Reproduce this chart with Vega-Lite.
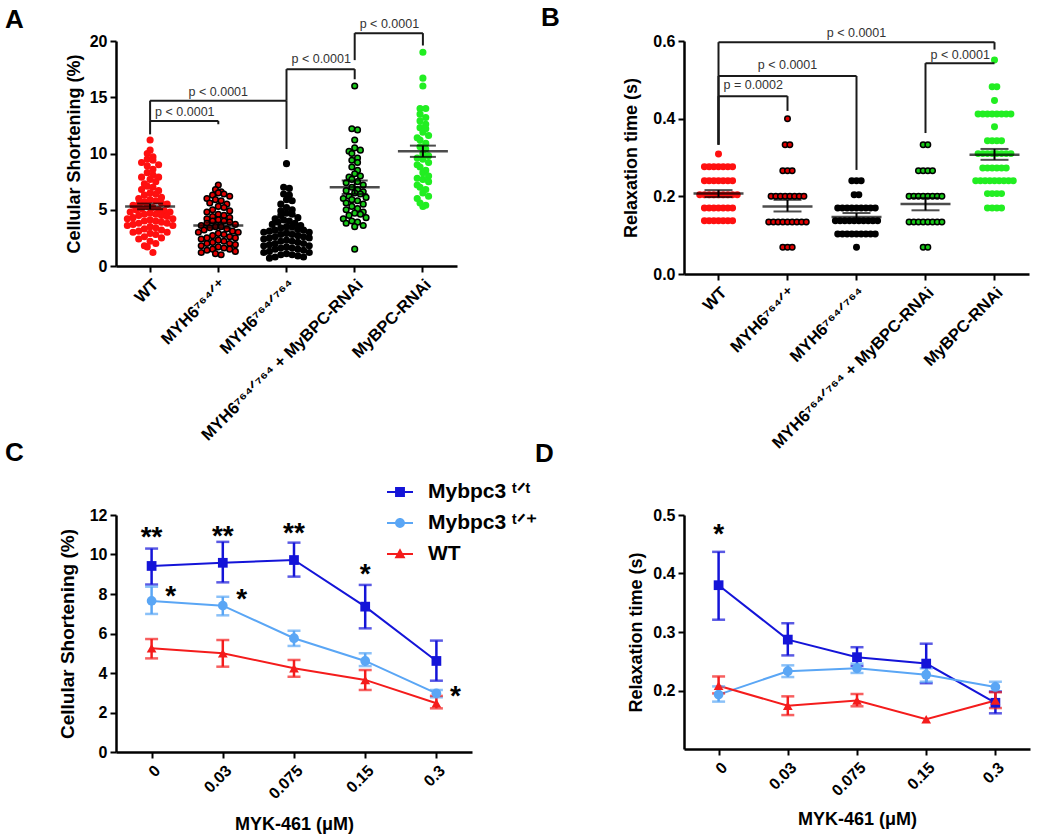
{
  "$schema": "https://vega.github.io/schema/vega-lite/v6.json",
  "background": "white",
  "padding": {"left": 5, "top": 5, "right": 5, "bottom": 5},
  "columns": 2,
  "bounds": "flush",
  "spacing": {"row": 241, "column": 212},
  "resolve": {
    "scale": {"xOffset": "independent", "fill": "independent", "stroke": "independent", "shape": "independent", "color": "independent"},
    "legend": {"fill": "independent", "stroke": "independent", "shape": "independent", "color": "independent"}
  },
  "config": {
    "font": "Liberation Sans",
    "view": {"stroke": null},
    "axis": {"domainColor": "#000", "domainWidth": 2.5, "tickColor": "#000", "tickWidth": 2, "tickSize": 6, "labelColor": "#000", "labelFont": "Liberation Sans", "labelFontWeight": "bold", "labelFontSize": 16, "titleFont": "Liberation Sans", "titleFontWeight": "bold", "titleFontSize": 18, "titleColor": "#000", "grid": false, "labelPadding": 3, "labelOverlap": false, "labelFlush": false},
    "title": {"font": "Liberation Sans", "fontSize": 26, "fontWeight": "bold", "color": "#000", "anchor": "start", "frame": "group", "offset": 0, "baseline": "alphabetic"},
    "legend": {"labelFont": "Liberation Sans", "labelFontWeight": "bold", "labelFontSize": 21, "labelColor": "#000", "padding": 0}
  },
  "concat": [
    {
      "width": 341,
      "height": 225,
      "title": {"text": "A", "dx": -111, "dy": 19},
      "layer": [
        {
          "data": {"values": [
            {"g":"WT","v":11.2},{"g":"WT","v":10.3},{"g":"WT","v":10.0},{"g":"WT","v":9.7},{"g":"WT","v":9.5},{"g":"WT","v":9.4},{"g":"WT","v":9.2},{"g":"WT","v":9.0},{"g":"WT","v":8.9},{"g":"WT","v":8.6},
            {"g":"WT","v":8.3},{"g":"WT","v":8.1},{"g":"WT","v":7.9},{"g":"WT","v":7.9},{"g":"WT","v":7.7},{"g":"WT","v":7.5},{"g":"WT","v":7.3},{"g":"WT","v":7.1},{"g":"WT","v":7.0},{"g":"WT","v":6.8},
            {"g":"WT","v":6.7},{"g":"WT","v":6.5},{"g":"WT","v":6.4},{"g":"WT","v":6.3},{"g":"WT","v":6.1},{"g":"WT","v":6.0},{"g":"WT","v":5.9},{"g":"WT","v":5.8},{"g":"WT","v":5.7},{"g":"WT","v":5.6},
            {"g":"WT","v":5.5},{"g":"WT","v":5.5},{"g":"WT","v":5.4},{"g":"WT","v":5.3},{"g":"WT","v":5.2},{"g":"WT","v":5.1},{"g":"WT","v":5.0},{"g":"WT","v":5.0},{"g":"WT","v":4.9},{"g":"WT","v":4.8},
            {"g":"WT","v":4.8},{"g":"WT","v":4.7},{"g":"WT","v":4.6},{"g":"WT","v":4.6},{"g":"WT","v":4.5},{"g":"WT","v":4.5},{"g":"WT","v":4.4},{"g":"WT","v":4.3},{"g":"WT","v":4.2},{"g":"WT","v":4.2},
            {"g":"WT","v":4.1},{"g":"WT","v":4.0},{"g":"WT","v":4.0},{"g":"WT","v":3.9},{"g":"WT","v":3.8},{"g":"WT","v":3.8},{"g":"WT","v":3.7},{"g":"WT","v":3.6},{"g":"WT","v":3.6},{"g":"WT","v":3.5},
            {"g":"WT","v":3.4},{"g":"WT","v":3.3},{"g":"WT","v":3.2},{"g":"WT","v":3.1},{"g":"WT","v":3.0},{"g":"WT","v":3.0},{"g":"WT","v":2.9},{"g":"WT","v":2.8},{"g":"WT","v":2.6},{"g":"WT","v":2.5},
            {"g":"WT","v":2.4},{"g":"WT","v":2.2},{"g":"WT","v":2.0},{"g":"WT","v":1.8},{"g":"WT","v":1.7},{"g":"WT","v":1.2},
            {"g":"HET","v":7.2},{"g":"HET","v":6.8},{"g":"HET","v":6.6},{"g":"HET","v":6.5},{"g":"HET","v":6.4},{"g":"HET","v":6.3},{"g":"HET","v":6.2},{"g":"HET","v":6.0},{"g":"HET","v":5.9},{"g":"HET","v":5.8},
            {"g":"HET","v":5.6},{"g":"HET","v":5.5},{"g":"HET","v":5.3},{"g":"HET","v":5.2},{"g":"HET","v":5.0},{"g":"HET","v":4.9},{"g":"HET","v":4.8},{"g":"HET","v":4.6},{"g":"HET","v":4.5},{"g":"HET","v":4.4},
            {"g":"HET","v":4.3},{"g":"HET","v":4.2},{"g":"HET","v":4.1},{"g":"HET","v":4.0},{"g":"HET","v":4.0},{"g":"HET","v":3.9},{"g":"HET","v":3.8},{"g":"HET","v":3.7},{"g":"HET","v":3.6},{"g":"HET","v":3.5},
            {"g":"HET","v":3.5},{"g":"HET","v":3.4},{"g":"HET","v":3.3},{"g":"HET","v":3.2},{"g":"HET","v":3.1},{"g":"HET","v":3.0},{"g":"HET","v":3.0},{"g":"HET","v":2.9},{"g":"HET","v":2.8},{"g":"HET","v":2.7},
            {"g":"HET","v":2.6},{"g":"HET","v":2.5},{"g":"HET","v":2.5},{"g":"HET","v":2.4},{"g":"HET","v":2.3},{"g":"HET","v":2.2},{"g":"HET","v":2.1},{"g":"HET","v":2.0},{"g":"HET","v":2.0},{"g":"HET","v":1.9},
            {"g":"HET","v":1.8},{"g":"HET","v":1.7},{"g":"HET","v":1.6},{"g":"HET","v":1.5},{"g":"HET","v":1.5},{"g":"HET","v":1.4},{"g":"HET","v":1.3},{"g":"HET","v":1.2},{"g":"HET","v":1.1},{"g":"HET","v":1.0},
            {"g":"HOM","v":9.1},{"g":"HOM","v":7.0},{"g":"HOM","v":6.9},{"g":"HOM","v":6.4},{"g":"HOM","v":6.3},{"g":"HOM","v":5.9},{"g":"HOM","v":5.8},{"g":"HOM","v":5.5},{"g":"HOM","v":5.2},{"g":"HOM","v":5.0},
            {"g":"HOM","v":4.9},{"g":"HOM","v":4.7},{"g":"HOM","v":4.6},{"g":"HOM","v":4.5},{"g":"HOM","v":4.3},{"g":"HOM","v":4.2},{"g":"HOM","v":4.1},{"g":"HOM","v":4.0},{"g":"HOM","v":3.9},{"g":"HOM","v":3.8},
            {"g":"HOM","v":3.7},{"g":"HOM","v":3.6},{"g":"HOM","v":3.5},{"g":"HOM","v":3.5},{"g":"HOM","v":3.4},{"g":"HOM","v":3.3},{"g":"HOM","v":3.2},{"g":"HOM","v":3.2},{"g":"HOM","v":3.1},{"g":"HOM","v":3.0},
            {"g":"HOM","v":3.0},{"g":"HOM","v":2.9},{"g":"HOM","v":2.8},{"g":"HOM","v":2.8},{"g":"HOM","v":2.7},{"g":"HOM","v":2.6},{"g":"HOM","v":2.6},{"g":"HOM","v":2.5},{"g":"HOM","v":2.5},{"g":"HOM","v":2.4},
            {"g":"HOM","v":2.3},{"g":"HOM","v":2.2},{"g":"HOM","v":2.2},{"g":"HOM","v":2.1},{"g":"HOM","v":2.0},{"g":"HOM","v":2.0},{"g":"HOM","v":1.9},{"g":"HOM","v":1.8},{"g":"HOM","v":1.8},{"g":"HOM","v":1.7},
            {"g":"HOM","v":1.6},{"g":"HOM","v":1.6},{"g":"HOM","v":1.5},{"g":"HOM","v":1.5},{"g":"HOM","v":1.4},{"g":"HOM","v":1.3},{"g":"HOM","v":1.2},{"g":"HOM","v":1.2},{"g":"HOM","v":1.1},{"g":"HOM","v":1.0},
            {"g":"HOM","v":1.0},{"g":"HOM","v":0.9},{"g":"HOM","v":0.8},{"g":"HOM","v":0.8},{"g":"HOM","v":0.7},
            {"g":"COMBO","v":16.0},{"g":"COMBO","v":12.2},{"g":"COMBO","v":12.1},{"g":"COMBO","v":11.2},{"g":"COMBO","v":10.5},{"g":"COMBO","v":10.3},{"g":"COMBO","v":10.2},{"g":"COMBO","v":10.0},{"g":"COMBO","v":9.6},{"g":"COMBO","v":9.4},
            {"g":"COMBO","v":9.2},{"g":"COMBO","v":8.8},{"g":"COMBO","v":8.5},{"g":"COMBO","v":8.2},{"g":"COMBO","v":8.0},{"g":"COMBO","v":7.9},{"g":"COMBO","v":7.7},{"g":"COMBO","v":7.5},{"g":"COMBO","v":7.4},{"g":"COMBO","v":7.2},
            {"g":"COMBO","v":7.0},{"g":"COMBO","v":6.8},{"g":"COMBO","v":6.7},{"g":"COMBO","v":6.6},{"g":"COMBO","v":6.5},{"g":"COMBO","v":6.4},{"g":"COMBO","v":6.2},{"g":"COMBO","v":6.1},{"g":"COMBO","v":6.0},{"g":"COMBO","v":5.9},
            {"g":"COMBO","v":5.8},{"g":"COMBO","v":5.6},{"g":"COMBO","v":5.5},{"g":"COMBO","v":5.3},{"g":"COMBO","v":5.1},{"g":"COMBO","v":5.0},{"g":"COMBO","v":4.8},{"g":"COMBO","v":4.7},{"g":"COMBO","v":4.6},{"g":"COMBO","v":4.5},
            {"g":"COMBO","v":4.3},{"g":"COMBO","v":4.2},{"g":"COMBO","v":4.0},{"g":"COMBO","v":3.9},{"g":"COMBO","v":3.8},{"g":"COMBO","v":3.6},{"g":"COMBO","v":3.5},{"g":"COMBO","v":1.5},
            {"g":"RNAI","v":19.0},{"g":"RNAI","v":16.7},{"g":"RNAI","v":16.0},{"g":"RNAI","v":14.0},{"g":"RNAI","v":14.0},{"g":"RNAI","v":13.5},{"g":"RNAI","v":13.2},{"g":"RNAI","v":12.9},{"g":"RNAI","v":12.6},{"g":"RNAI","v":12.3},
            {"g":"RNAI","v":12.2},{"g":"RNAI","v":11.9},{"g":"RNAI","v":11.6},{"g":"RNAI","v":11.4},{"g":"RNAI","v":11.2},{"g":"RNAI","v":10.9},{"g":"RNAI","v":10.6},{"g":"RNAI","v":10.4},{"g":"RNAI","v":10.0},{"g":"RNAI","v":9.8},
            {"g":"RNAI","v":9.6},{"g":"RNAI","v":9.5},{"g":"RNAI","v":9.2},{"g":"RNAI","v":9.0},{"g":"RNAI","v":8.8},{"g":"RNAI","v":8.5},{"g":"RNAI","v":8.3},{"g":"RNAI","v":8.0},{"g":"RNAI","v":7.8},{"g":"RNAI","v":7.7},
            {"g":"RNAI","v":7.5},{"g":"RNAI","v":7.2},{"g":"RNAI","v":7.0},{"g":"RNAI","v":6.8},{"g":"RNAI","v":6.5},{"g":"RNAI","v":6.2},{"g":"RNAI","v":6.0},{"g":"RNAI","v":5.6},{"g":"RNAI","v":5.4},{"g":"RNAI","v":5.3}
          ]},
          "transform": [
            {"bin": {"step": 0.6, "extent": [0, 21]}, "field": "v", "as": "b"},
            {"window": [{"op": "row_number", "as": "r"}, {"op": "count", "as": "n"}], "groupby": ["g", "b"], "frame": [null, null]},
            {"calculate": "(datum.r % 2 == 0 ? 1 : -1) * floor(datum.r / 2) + (datum.n % 2 == 0 ? -0.5 : 0)", "as": "off"}
          ],
          "mark": {"type": "point", "filled": true, "size": 32, "strokeWidth": 1.5, "opacity": 1},
          "encoding": {
            "x": {"field": "g", "type": "nominal", "scale": {"type": "band", "paddingInner": 0, "paddingOuter": 0, "domain": ["WT", "HET", "HOM", "COMBO", "RNAI"]},
                  "axis": {"title": null, "labelAngle": -45, "labelAlign": "right", "labelBaseline": "top", "labelPadding": 4, "labelFontSize": 16.5, "labelLimit": 400, "labelOverlap": false,
                           "labelExpr": "datum.value == 'WT' ? 'WT' : datum.value == 'HET' ? 'MYH6⁷⁶⁴ᐟ⁺' : datum.value == 'HOM' ? 'MYH6⁷⁶⁴ᐟ⁷⁶⁴' : datum.value == 'COMBO' ? 'MYH6⁷⁶⁴ᐟ⁷⁶⁴ + MyBPC-RNAi' : 'MyBPC-RNAi'"}},
            "xOffset": {"field": "off", "type": "quantitative", "scale": {"domain": [-6, 6], "nice": false, "zero": false}},
            "y": {"field": "v", "type": "quantitative", "scale": {"domain": [0, 20], "nice": false}, "axis": {"title": "Cellular Shortening (%)", "values": [0, 5, 10, 15, 20], "tickCount": 5, "titlePadding": 6, "labelOverlap": false}},
            "fill": {"field": "g", "type": "nominal", "scale": {"domain": ["WT", "HET", "HOM", "COMBO", "RNAI"], "range": ["#ff1010", "#e00000", "#000000", "#18c818", "#22ee22"]}, "legend": null},
            "stroke": {"field": "g", "type": "nominal", "scale": {"domain": ["WT", "HET", "HOM", "COMBO", "RNAI"], "range": ["#ff1010", "#000000", "#000000", "#000000", "#22ee22"]}, "legend": null}
          }
        },
        {
          "data": {"values": [
            {"g":"WT","m":5.3,"lo":5.05,"hi":5.55},{"g":"HET","m":3.61,"lo":3.4,"hi":3.85},{"g":"HOM","m":3.0,"lo":2.8,"hi":3.2},{"g":"COMBO","m":6.99,"lo":6.4,"hi":7.6},{"g":"RNAI","m":10.19,"lo":9.7,"hi":10.7}
          ]},
          "layer": [
            {"mark": {"type": "tick", "size": 50, "thickness": 2.5, "color": "#000"}, "encoding": {"x": {"field": "g", "type": "nominal"}, "y": {"field": "m", "type": "quantitative"}}},
            {"mark": {"type": "tick", "size": 26, "thickness": 2, "color": "#000"}, "encoding": {"x": {"field": "g", "type": "nominal"}, "y": {"field": "lo", "type": "quantitative"}}},
            {"mark": {"type": "tick", "size": 26, "thickness": 2, "color": "#000"}, "encoding": {"x": {"field": "g", "type": "nominal"}, "y": {"field": "hi", "type": "quantitative"}}},
            {"mark": {"type": "rule", "strokeWidth": 2, "color": "#000"}, "encoding": {"x": {"field": "g", "type": "nominal"}, "y": {"field": "lo", "type": "quantitative"}, "y2": {"field": "hi"}}}
          ]
        },
        {
          "data": {"values": [
            {"g1":"WT","g2":"HET","y":12.9,"l1":11.7,"l2":12.6},
            {"g1":"WT","g2":"HOM","y":14.7,"l1":12.9,"l2":10.4},
            {"g1":"HOM","g2":"COMBO","y":17.5,"l1":14.7,"l2":16.6},
            {"g1":"COMBO","g2":"RNAI","y":20.7,"l1":18.3,"l2":19.6}
          ]},
          "layer": [
            {"mark": {"type": "rule", "strokeWidth": 2, "color": "#1a1a1a"}, "encoding": {"x": {"field": "g1", "type": "nominal"}, "x2": {"field": "g2"}, "y": {"field": "y", "type": "quantitative"}}},
            {"mark": {"type": "rule", "strokeWidth": 2, "color": "#1a1a1a"}, "encoding": {"x": {"field": "g1", "type": "nominal"}, "y": {"field": "l1", "type": "quantitative"}, "y2": {"field": "y"}}},
            {"mark": {"type": "rule", "strokeWidth": 2, "color": "#1a1a1a"}, "encoding": {"x": {"field": "g2", "type": "nominal"}, "y": {"field": "l2", "type": "quantitative"}, "y2": {"field": "y"}}}
          ]
        },
        {
          "data": {"values": [
            {"g":"WT","y":13.73,"t":"p < 0.0001"},{"g":"HOM","y":18.4,"t":"p < 0.0001"},{"g":"COMBO","y":21.5,"t":"p < 0.0001"}
          ]},
          "mark": {"type": "text", "align": "left", "baseline": "middle", "dx": 5, "fontSize": 12.5, "font": "Liberation Sans", "color": "#333"},
          "encoding": {"x": {"field": "g", "type": "nominal"}, "y": {"field": "y", "type": "quantitative"}, "text": {"field": "t"}}
        },
        {
          "data": {"values": [{"g":"HET","y":15.47,"t":"p < 0.0001"}]},
          "mark": {"type": "text", "align": "center", "baseline": "middle", "fontSize": 12.5, "font": "Liberation Sans", "color": "#333"},
          "encoding": {"x": {"field": "g", "type": "nominal"}, "y": {"field": "y", "type": "quantitative"}, "text": {"field": "t"}}
        }
      ]
    },
    {
      "width": 345,
      "height": 233,
      "title": {"text": "B", "dx": -143, "dy": 8},
      "layer": [
        {
          "data": {"values": [
            {"g":"WT","v":0.309},
            {"g":"WT","v":0.276},{"g":"WT","v":0.276},{"g":"WT","v":0.276},{"g":"WT","v":0.276},{"g":"WT","v":0.276},{"g":"WT","v":0.276},{"g":"WT","v":0.276},
            {"g":"WT","v":0.240},{"g":"WT","v":0.240},{"g":"WT","v":0.240},{"g":"WT","v":0.240},{"g":"WT","v":0.240},{"g":"WT","v":0.240},{"g":"WT","v":0.240},
            {"g":"WT","v":0.204},{"g":"WT","v":0.204},{"g":"WT","v":0.204},{"g":"WT","v":0.204},{"g":"WT","v":0.204},{"g":"WT","v":0.204},{"g":"WT","v":0.204},{"g":"WT","v":0.204},{"g":"WT","v":0.204},
            {"g":"WT","v":0.170},{"g":"WT","v":0.170},{"g":"WT","v":0.170},{"g":"WT","v":0.170},{"g":"WT","v":0.170},{"g":"WT","v":0.170},{"g":"WT","v":0.170},
            {"g":"WT","v":0.137},{"g":"WT","v":0.137},{"g":"WT","v":0.137},{"g":"WT","v":0.137},{"g":"WT","v":0.137},{"g":"WT","v":0.137},{"g":"WT","v":0.137},
            {"g":"HET","v":0.400},
            {"g":"HET","v":0.333},{"g":"HET","v":0.333},
            {"g":"HET","v":0.266},{"g":"HET","v":0.266},{"g":"HET","v":0.266},
            {"g":"HET","v":0.200},{"g":"HET","v":0.200},{"g":"HET","v":0.200},{"g":"HET","v":0.200},{"g":"HET","v":0.200},{"g":"HET","v":0.200},{"g":"HET","v":0.200},{"g":"HET","v":0.200},
            {"g":"HET","v":0.134},{"g":"HET","v":0.134},{"g":"HET","v":0.134},{"g":"HET","v":0.134},{"g":"HET","v":0.134},{"g":"HET","v":0.134},{"g":"HET","v":0.134},{"g":"HET","v":0.134},{"g":"HET","v":0.134},
            {"g":"HET","v":0.069},{"g":"HET","v":0.069},{"g":"HET","v":0.069},
            {"g":"HOM","v":0.240},{"g":"HOM","v":0.240},{"g":"HOM","v":0.240},
            {"g":"HOM","v":0.204},{"g":"HOM","v":0.204},
            {"g":"HOM","v":0.170},{"g":"HOM","v":0.170},{"g":"HOM","v":0.170},{"g":"HOM","v":0.170},{"g":"HOM","v":0.170},{"g":"HOM","v":0.170},{"g":"HOM","v":0.170},{"g":"HOM","v":0.170},{"g":"HOM","v":0.170},
            {"g":"HOM","v":0.137},{"g":"HOM","v":0.137},{"g":"HOM","v":0.137},{"g":"HOM","v":0.137},{"g":"HOM","v":0.137},{"g":"HOM","v":0.137},{"g":"HOM","v":0.137},{"g":"HOM","v":0.137},{"g":"HOM","v":0.137},{"g":"HOM","v":0.137},
            {"g":"HOM","v":0.103},{"g":"HOM","v":0.103},{"g":"HOM","v":0.103},{"g":"HOM","v":0.103},{"g":"HOM","v":0.103},{"g":"HOM","v":0.103},{"g":"HOM","v":0.103},{"g":"HOM","v":0.103},{"g":"HOM","v":0.103},
            {"g":"HOM","v":0.069},
            {"g":"COMBO","v":0.333},{"g":"COMBO","v":0.333},
            {"g":"COMBO","v":0.266},{"g":"COMBO","v":0.266},{"g":"COMBO","v":0.266},{"g":"COMBO","v":0.266},
            {"g":"COMBO","v":0.200},{"g":"COMBO","v":0.200},{"g":"COMBO","v":0.200},{"g":"COMBO","v":0.200},{"g":"COMBO","v":0.200},{"g":"COMBO","v":0.200},{"g":"COMBO","v":0.200},{"g":"COMBO","v":0.200},
            {"g":"COMBO","v":0.134},{"g":"COMBO","v":0.134},{"g":"COMBO","v":0.134},{"g":"COMBO","v":0.134},{"g":"COMBO","v":0.134},{"g":"COMBO","v":0.134},{"g":"COMBO","v":0.134},{"g":"COMBO","v":0.134},
            {"g":"COMBO","v":0.069},{"g":"COMBO","v":0.069},
            {"g":"RNAI","v":0.551},
            {"g":"RNAI","v":0.482},{"g":"RNAI","v":0.482},
            {"g":"RNAI","v":0.447},
            {"g":"RNAI","v":0.412},{"g":"RNAI","v":0.412},{"g":"RNAI","v":0.412},{"g":"RNAI","v":0.412},{"g":"RNAI","v":0.412},{"g":"RNAI","v":0.412},{"g":"RNAI","v":0.412},{"g":"RNAI","v":0.412},
            {"g":"RNAI","v":0.379},
            {"g":"RNAI","v":0.343},{"g":"RNAI","v":0.343},{"g":"RNAI","v":0.343},{"g":"RNAI","v":0.343},
            {"g":"RNAI","v":0.310},{"g":"RNAI","v":0.310},{"g":"RNAI","v":0.310},{"g":"RNAI","v":0.310},{"g":"RNAI","v":0.310},{"g":"RNAI","v":0.310},{"g":"RNAI","v":0.310},{"g":"RNAI","v":0.310},
            {"g":"RNAI","v":0.273},{"g":"RNAI","v":0.273},{"g":"RNAI","v":0.273},{"g":"RNAI","v":0.273},{"g":"RNAI","v":0.273},{"g":"RNAI","v":0.273},
            {"g":"RNAI","v":0.240},{"g":"RNAI","v":0.240},{"g":"RNAI","v":0.240},{"g":"RNAI","v":0.240},{"g":"RNAI","v":0.240},{"g":"RNAI","v":0.240},{"g":"RNAI","v":0.240},{"g":"RNAI","v":0.240},{"g":"RNAI","v":0.240},
            {"g":"RNAI","v":0.207},{"g":"RNAI","v":0.207},{"g":"RNAI","v":0.207},{"g":"RNAI","v":0.207},
            {"g":"RNAI","v":0.170},{"g":"RNAI","v":0.170},{"g":"RNAI","v":0.170},{"g":"RNAI","v":0.170}
          ]},
          "transform": [
            {"window": [{"op": "row_number", "as": "r"}, {"op": "count", "as": "n"}], "groupby": ["g", "v"], "frame": [null, null]},
            {"calculate": "datum.r - (datum.n + 1) / 2", "as": "off"}
          ],
          "mark": {"type": "point", "filled": true, "size": 30, "strokeWidth": 1.5, "opacity": 1},
          "encoding": {
            "x": {"field": "g", "type": "nominal", "scale": {"type": "band", "paddingInner": 0, "paddingOuter": 0, "domain": ["WT", "HET", "HOM", "COMBO", "RNAI"]},
                  "axis": {"title": null, "labelAngle": -45, "labelAlign": "right", "labelBaseline": "top", "labelPadding": 4, "labelFontSize": 16.5, "labelLimit": 400, "labelOverlap": false,
                           "labelExpr": "datum.value == 'WT' ? 'WT' : datum.value == 'HET' ? 'MYH6⁷⁶⁴ᐟ⁺' : datum.value == 'HOM' ? 'MYH6⁷⁶⁴ᐟ⁷⁶⁴' : datum.value == 'COMBO' ? 'MYH6⁷⁶⁴ᐟ⁷⁶⁴ + MyBPC-RNAi' : 'MyBPC-RNAi'"}},
            "xOffset": {"field": "off", "type": "quantitative", "scale": {"domain": [-7.35, 7.35], "nice": false, "zero": false}},
            "y": {"field": "v", "type": "quantitative", "scale": {"domain": [0, 0.6], "nice": false}, "axis": {"title": "Relaxation time (s)", "values": [0, 0.2, 0.4, 0.6], "tickCount": 4, "format": ".1f", "titlePadding": 12, "labelOverlap": false}},
            "fill": {"field": "g", "type": "nominal", "scale": {"domain": ["WT", "HET", "HOM", "COMBO", "RNAI"], "range": ["#ff1010", "#e00000", "#000000", "#18c818", "#22ee22"]}, "legend": null},
            "stroke": {"field": "g", "type": "nominal", "scale": {"domain": ["WT", "HET", "HOM", "COMBO", "RNAI"], "range": ["#ff1010", "#000000", "#000000", "#000000", "#22ee22"]}, "legend": null}
          }
        },
        {
          "data": {"values": [
            {"g":"WT","m":0.207,"lo":0.198,"hi":0.216},{"g":"HET","m":0.174,"lo":0.161,"hi":0.191},{"g":"HOM","m":0.147,"lo":0.139,"hi":0.157},{"g":"COMBO","m":0.18,"lo":0.164,"hi":0.196},{"g":"RNAI","m":0.307,"lo":0.294,"hi":0.322}
          ]},
          "layer": [
            {"mark": {"type": "tick", "size": 50, "thickness": 2.5, "color": "#000"}, "encoding": {"x": {"field": "g", "type": "nominal"}, "y": {"field": "m", "type": "quantitative"}}},
            {"mark": {"type": "tick", "size": 28, "thickness": 2, "color": "#000"}, "encoding": {"x": {"field": "g", "type": "nominal"}, "y": {"field": "lo", "type": "quantitative"}}},
            {"mark": {"type": "tick", "size": 28, "thickness": 2, "color": "#000"}, "encoding": {"x": {"field": "g", "type": "nominal"}, "y": {"field": "hi", "type": "quantitative"}}},
            {"mark": {"type": "rule", "strokeWidth": 2, "color": "#000"}, "encoding": {"x": {"field": "g", "type": "nominal"}, "y": {"field": "lo", "type": "quantitative"}, "y2": {"field": "hi"}}}
          ]
        },
        {
          "data": {"values": [
            {"g1":"WT","g2":"HET","y":0.458,"l1":0.333,"l2":0.42},
            {"g1":"WT","g2":"HOM","y":0.51,"l1":0.333,"l2":0.268},
            {"g1":"WT","g2":"RNAI","y":0.597,"l1":0.333,"l2":0.578},
            {"g1":"COMBO","g2":"RNAI","y":0.543,"l1":0.363,"l2":0.543}
          ]},
          "layer": [
            {"mark": {"type": "rule", "strokeWidth": 2, "color": "#1a1a1a"}, "encoding": {"x": {"field": "g1", "type": "nominal"}, "x2": {"field": "g2"}, "y": {"field": "y", "type": "quantitative"}}},
            {"mark": {"type": "rule", "strokeWidth": 2, "color": "#1a1a1a"}, "encoding": {"x": {"field": "g1", "type": "nominal"}, "y": {"field": "l1", "type": "quantitative"}, "y2": {"field": "y"}}},
            {"mark": {"type": "rule", "strokeWidth": 2, "color": "#1a1a1a"}, "encoding": {"x": {"field": "g2", "type": "nominal"}, "y": {"field": "l2", "type": "quantitative"}, "y2": {"field": "y"}}}
          ]
        },
        {
          "data": {"values": [
            {"g":"WT","y":0.487,"t":"p = 0.0002"},{"g":"COMBO","y":0.564,"t":"p < 0.0001"}
          ]},
          "mark": {"type": "text", "align": "left", "baseline": "middle", "dx": 5, "fontSize": 12.5, "font": "Liberation Sans", "color": "#333"},
          "encoding": {"x": {"field": "g", "type": "nominal"}, "y": {"field": "y", "type": "quantitative"}, "text": {"field": "t"}}
        },
        {
          "data": {"values": [{"g":"HET","y":0.538,"t":"p < 0.0001"},{"g":"HOM","y":0.62,"t":"p < 0.0001"}]},
          "mark": {"type": "text", "align": "center", "baseline": "middle", "fontSize": 12.5, "font": "Liberation Sans", "color": "#333"},
          "encoding": {"x": {"field": "g", "type": "nominal"}, "y": {"field": "y", "type": "quantitative"}, "text": {"field": "t"}}
        }
      ]
    },
    {
      "width": 356,
      "height": 237,
      "title": {"text": "C", "dx": -111, "dy": -9},
      "data": {"values": [
        {"s":"tt","x":"0","m":9.42,"lo":8.48,"hi":10.3},
        {"s":"tt","x":"0.03","m":9.58,"lo":8.59,"hi":10.64},
        {"s":"tt","x":"0.075","m":9.72,"lo":8.88,"hi":10.6},
        {"s":"tt","x":"0.15","m":7.36,"lo":6.26,"hi":8.46},
        {"s":"tt","x":"0.3","m":4.61,"lo":3.61,"hi":5.64},
        {"s":"tp","x":"0","m":7.65,"lo":6.99,"hi":8.37},
        {"s":"tp","x":"0.03","m":7.41,"lo":6.92,"hi":7.86},
        {"s":"tp","x":"0.075","m":5.76,"lo":5.37,"hi":6.14},
        {"s":"tp","x":"0.15","m":4.61,"lo":4.35,"hi":5.0},
        {"s":"tp","x":"0.3","m":2.97,"lo":2.77,"hi":3.14},
        {"s":"WT","x":"0","m":5.25,"lo":4.74,"hi":5.72},
        {"s":"WT","x":"0.03","m":5.0,"lo":4.32,"hi":5.67},
        {"s":"WT","x":"0.075","m":4.24,"lo":3.81,"hi":4.66},
        {"s":"WT","x":"0.15","m":3.65,"lo":3.14,"hi":4.15},
        {"s":"WT","x":"0.3","m":2.47,"lo":2.21,"hi":2.84}
      ]},
      "transform": [{"calculate": "datum.s + '_'", "as": "series"}],
      "layer": [
        {
          "mark": {"type": "line", "strokeWidth": 2},
          "encoding": {
            "x": {"field": "x", "type": "ordinal", "scale": {"type": "point", "padding": 0.5, "domain": ["0", "0.03", "0.075", "0.15", "0.3"]},
                  "axis": {"title": "MYK-461 (μM)", "labelAngle": -45, "labelAlign": "right", "labelBaseline": "top", "labelPadding": 4, "titlePadding": 14, "labelOverlap": false}},
            "y": {"field": "m", "type": "quantitative", "scale": {"domain": [0, 12], "nice": false}, "axis": {"title": "Cellular Shortening (%)", "titleFontSize": 19, "values": [0, 2, 4, 6, 8, 10, 12], "tickCount": 7, "titlePadding": 12, "labelOverlap": false}},
            "stroke": {"field": "series", "type": "nominal", "scale": {"domain": ["tt_", "tp_", "WT_"], "range": ["#1414d8", "#5aa6f5", "#f41c1c"]},
                       "legend": {"orient": "none", "legendX": 271, "legendY": -36, "title": null, "symbolType": "stroke", "symbolSize": 676, "symbolStrokeWidth": 2.5, "labelOffset": 15, "rowPadding": 8,
                                  "labelExpr": "datum.label == 'tt_' ? 'Mybpc3 ᵗᐟᵗ' : datum.label == 'tp_' ? 'Mybpc3 ᵗᐟ⁺' : 'WT'",
                                  "encode": {"symbols": {"update": {
                                    "shape": {"signal": "datum.value == 'tt_' ? 'M-1,-0.08L1,-0.08L1,0.08L-1,0.08Z M-0.38,-0.38L0.38,-0.38L0.38,0.38L-0.38,0.38Z' : datum.value == 'tp_' ? 'M-1,-0.08L1,-0.08L1,0.08L-1,0.08Z M0.38,0A0.38,0.38 0 1 1 -0.38,0A0.38,0.38 0 1 1 0.38,0Z' : 'M-1,-0.08L1,-0.08L1,0.08L-1,0.08Z M0,-0.44L0.42,0.32L-0.42,0.32Z'"},
                                    "fill": {"signal": "datum.value == 'tt_' ? '#1414d8' : datum.value == 'tp_' ? '#5aa6f5' : '#f41c1c'"},
                                    "fillOpacity": {"value": 1},
                                    "strokeWidth": {"value": 0}
                                  }}}}}
          }
        },
        {
          "mark": {"type": "rule", "strokeWidth": 2.5},
          "encoding": {
            "x": {"field": "x", "type": "ordinal"},
            "y": {"field": "lo", "type": "quantitative"},
            "y2": {"field": "hi"},
            "stroke": {"field": "series", "type": "nominal", "scale": {"domain": ["tt_", "tp_", "WT_"], "range": ["#1414d8", "#5aa6f5", "#f41c1c"]}}
          }
        },
        {
          "mark": {"type": "tick", "size": 13, "thickness": 2.5},
          "encoding": {
            "x": {"field": "x", "type": "ordinal"},
            "y": {"field": "lo", "type": "quantitative"},
            "fill": {"field": "s", "type": "nominal", "scale": {"domain": ["tt", "tp", "WT"], "range": ["#1414d8", "#5aa6f5", "#f41c1c"]}, "legend": null}
          }
        },
        {
          "mark": {"type": "tick", "size": 13, "thickness": 2.5},
          "encoding": {
            "x": {"field": "x", "type": "ordinal"},
            "y": {"field": "hi", "type": "quantitative"},
            "fill": {"field": "s", "type": "nominal", "scale": {"domain": ["tt", "tp", "WT"], "range": ["#1414d8", "#5aa6f5", "#f41c1c"]}, "legend": null}
          }
        },
        {
          "mark": {"type": "point", "filled": true, "size": 95, "strokeWidth": 0, "opacity": 1},
          "encoding": {
            "x": {"field": "x", "type": "ordinal"},
            "y": {"field": "m", "type": "quantitative"},
            "fill": {"field": "s", "type": "nominal", "scale": {"domain": ["tt", "tp", "WT"], "range": ["#1414d8", "#5aa6f5", "#f41c1c"]}, "legend": null},
            "shape": {"field": "s", "type": "nominal", "scale": {"domain": ["tt", "tp", "WT"], "range": ["square", "circle", "triangle-up"]}, "legend": null}
          }
        },
        {
          "data": {"values": [
            {"x":"0","y":10.41,"t":"**"},{"x":"0.03","y":10.49,"t":"**"},{"x":"0.075","y":10.62,"t":"**"},{"x":"0.15","y":8.57,"t":"*"}
          ]},
          "mark": {"type": "text", "align": "center", "baseline": "alphabetic", "fontSize": 28, "fontWeight": "bold", "font": "Liberation Sans", "color": "#000"},
          "encoding": {"x": {"field": "x", "type": "ordinal"}, "y": {"field": "y", "type": "quantitative"}, "text": {"field": "t"}}
        },
        {
          "data": {"values": [
            {"x":"0","y":7.46,"t":"*"},{"x":"0.03","y":7.31,"t":"*"},{"x":"0.3","y":2.36,"t":"*"}
          ]},
          "mark": {"type": "text", "align": "center", "baseline": "alphabetic", "dx": 19, "fontSize": 28, "fontWeight": "bold", "font": "Liberation Sans", "color": "#000"},
          "encoding": {"x": {"field": "x", "type": "ordinal"}, "y": {"field": "y", "type": "quantitative"}, "text": {"field": "t"}}
        }
      ]
    },
    {
      "width": 346,
      "height": 234,
      "title": {"text": "D", "dx": -149, "dy": -36},
      "data": {"values": [
        {"s":"tt","x":"0","m":0.380,"lo":0.321,"hi":0.437},
        {"s":"tt","x":"0.03","m":0.287,"lo":0.260,"hi":0.315},
        {"s":"tt","x":"0.075","m":0.257,"lo":0.242,"hi":0.274},
        {"s":"tt","x":"0.15","m":0.246,"lo":0.2125,"hi":0.280},
        {"s":"tt","x":"0.3","m":0.179,"lo":0.161,"hi":0.198},
        {"s":"tp","x":"0","m":0.193,"lo":0.181,"hi":0.207},
        {"s":"tp","x":"0.03","m":0.233,"lo":0.223,"hi":0.243},
        {"s":"tp","x":"0.075","m":0.238,"lo":0.230,"hi":0.246},
        {"s":"tp","x":"0.15","m":0.227,"lo":0.215,"hi":0.238},
        {"s":"tp","x":"0.3","m":0.206,"lo":0.198,"hi":0.215},
        {"s":"WT","x":"0","m":0.208,"lo":0.195,"hi":0.224},
        {"s":"WT","x":"0.03","m":0.174,"lo":0.158,"hi":0.190},
        {"s":"WT","x":"0.075","m":0.183,"lo":0.173,"hi":0.194},
        {"s":"WT","x":"0.15","m":0.151,"lo":null,"hi":null},
        {"s":"WT","x":"0.3","m":0.183,"lo":0.170,"hi":0.197}
      ]},
      "layer": [
        {
          "mark": {"type": "line", "strokeWidth": 2},
          "encoding": {
            "x": {"field": "x", "type": "ordinal", "scale": {"type": "point", "padding": 0.5, "domain": ["0", "0.03", "0.075", "0.15", "0.3"]},
                  "axis": {"title": "MYK-461 (μM)", "labelAngle": -45, "labelAlign": "right", "labelBaseline": "top", "labelPadding": 4, "titlePadding": 12, "labelOverlap": false}},
            "y": {"field": "m", "type": "quantitative", "scale": {"domain": [0.1, 0.5], "nice": false, "zero": false}, "axis": {"title": "Relaxation time (s)", "values": [0.2, 0.3, 0.4, 0.5], "format": ".1f", "titlePadding": 7, "labelOverlap": false}},
            "stroke": {"field": "s", "type": "nominal", "scale": {"domain": ["tt", "tp", "WT"], "range": ["#1414d8", "#5aa6f5", "#f41c1c"]}, "legend": null}
          }
        },
        {
          "mark": {"type": "rule", "strokeWidth": 2.5},
          "encoding": {
            "x": {"field": "x", "type": "ordinal"},
            "y": {"field": "lo", "type": "quantitative"},
            "y2": {"field": "hi"},
            "stroke": {"field": "s", "type": "nominal", "scale": {"domain": ["tt", "tp", "WT"], "range": ["#1414d8", "#5aa6f5", "#f41c1c"]}, "legend": null}
          }
        },
        {
          "mark": {"type": "tick", "size": 13, "thickness": 2.5},
          "encoding": {
            "x": {"field": "x", "type": "ordinal"},
            "y": {"field": "lo", "type": "quantitative"},
            "fill": {"field": "s", "type": "nominal", "scale": {"domain": ["tt", "tp", "WT"], "range": ["#1414d8", "#5aa6f5", "#f41c1c"]}, "legend": null}
          }
        },
        {
          "mark": {"type": "tick", "size": 13, "thickness": 2.5},
          "encoding": {
            "x": {"field": "x", "type": "ordinal"},
            "y": {"field": "hi", "type": "quantitative"},
            "fill": {"field": "s", "type": "nominal", "scale": {"domain": ["tt", "tp", "WT"], "range": ["#1414d8", "#5aa6f5", "#f41c1c"]}, "legend": null}
          }
        },
        {
          "mark": {"type": "point", "filled": true, "size": 95, "strokeWidth": 0, "opacity": 1},
          "encoding": {
            "x": {"field": "x", "type": "ordinal"},
            "y": {"field": "m", "type": "quantitative"},
            "fill": {"field": "s", "type": "nominal", "scale": {"domain": ["tt", "tp", "WT"], "range": ["#1414d8", "#5aa6f5", "#f41c1c"]}, "legend": null},
            "shape": {"field": "s", "type": "nominal", "scale": {"domain": ["tt", "tp", "WT"], "range": ["square", "circle", "triangle-up"]}, "legend": null}
          }
        },
        {
          "data": {"values": [{"x":"0","y":0.452,"t":"*"}]},
          "mark": {"type": "text", "align": "center", "baseline": "alphabetic", "fontSize": 28, "fontWeight": "bold", "font": "Liberation Sans", "color": "#000"},
          "encoding": {"x": {"field": "x", "type": "ordinal"}, "y": {"field": "y", "type": "quantitative"}, "text": {"field": "t"}}
        }
      ]
    }
  ]
}
